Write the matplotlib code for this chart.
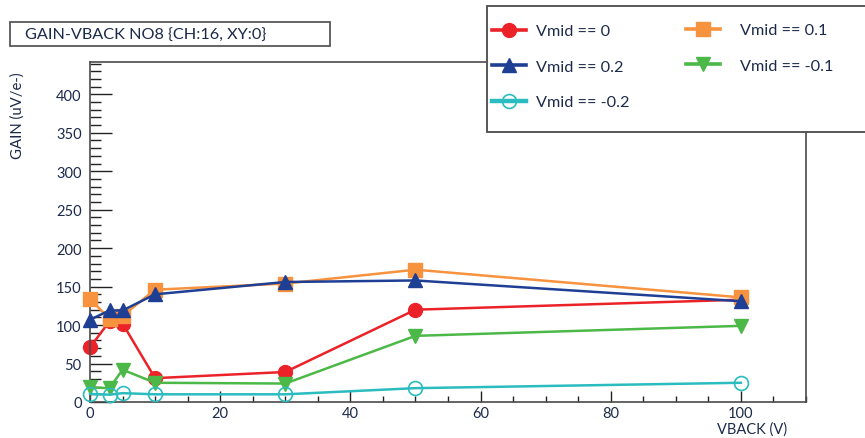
import matplotlib
matplotlib.use("Agg")
import matplotlib.pyplot as plt
from matplotlib.ticker import MultipleLocator
from matplotlib.lines import Line2D
from matplotlib.patches import Rectangle

plt.rcParams['font.family'] = ['Lato', 'DejaVu Sans']

# Back-bias voltage scan (V)
vback = [0, 3, 5, 10, 30, 50, 100]

# Gain (uV/e-) for each Vmid setting
gain_vmid_0 = [71, 105, 102, 31, 39, 120, 133]
gain_vmid_p01 = [134, 108, 112, 146, 154, 172, 136]
gain_vmid_p02 = [107, 119, 119, 140, 156, 158, 131]
gain_vmid_m01 = [19, 18, 42, 25, 24, 86, 99]
gain_vmid_m02 = [10.5, 9.5, 11.5, 10, 10, 18, 25]

labels = ["Vmid == 0", "Vmid == 0.1", "Vmid == 0.2", "Vmid == -0.1", "Vmid == -0.2"]
title = "GAIN-VBACK NO8 {CH:16, XY:0}"

W, H = 865, 439
fig = plt.figure(figsize=(W / 100, H / 100), dpi=100)
ax = fig.add_axes([90 / W, 1 - 403 / H, (806 - 90) / W, (403 - 63) / H])

styles = [
    (gain_vmid_0, labels[0], "#ec2229", "o", dict(), 2),
    (gain_vmid_p01, labels[1], "#f7923f", "s", dict(), 3),
    (gain_vmid_p02, labels[2], "#1f3f95", "^", dict(), 4),
    (gain_vmid_m01, labels[3], "#4cb848", "v", dict(), 5),
    (gain_vmid_m02, labels[4], "#2bbcbf", "o", dict(mfc="none", mew=1.2), 6),
]

handles = {}
for ys, lab, col, mk, extra, z in styles:
    kw = dict(color=col, lw=1.8, marker=mk, ms=10, mec=col, zorder=z, clip_on=False)
    kw.update(extra)
    ax.plot(vback, ys, **kw)
    hk = dict(kw)
    hk.pop("zorder"); hk.pop("clip_on")
    hk["lw"] = 2.6 if mk != "o" or "mfc" not in extra else 3.2
    handles[lab] = Line2D([], [], **hk)

ax.set_xlim(0, 110)
ax.set_ylim(0, 442)

ax.xaxis.set_major_locator(MultipleLocator(20))
ax.xaxis.set_minor_locator(MultipleLocator(5))
ax.yaxis.set_major_locator(MultipleLocator(50))
ax.yaxis.set_minor_locator(MultipleLocator(10))

frame_col = "#4a4a4a"
for s in ax.spines.values():
    s.set_color(frame_col)
    s.set_linewidth(1.2)

ax.tick_params(axis="x", which="major", direction="in", length=8, width=1, color="#222222",
               labelsize=10.5, pad=3, labelcolor="#1c2a4a")
ax.tick_params(axis="x", which="minor", direction="in", length=4, width=1, color="#222222")
ax.tick_params(axis="y", which="major", direction="in", length=16, width=1, color="#222222",
               labelsize=10.5, pad=6, labelcolor="#1c2a4a")
ax.tick_params(axis="y", which="minor", direction="in", length=8, width=1, color="#222222")

# axis titles in ROOT style: flush with the far end of each axis
fig.text(787 / W, 1 - 430 / H, "VBACK (V)", ha="right", va="center", fontsize=10.5, color="#1c2a4a")
fig.text(18 / W, 1 - 72 / H, "GAIN (uV/e-)", ha="center", va="top", rotation=90, fontsize=10.7,
         color="#1c2a4a")

# title box
fig.patches.append(Rectangle((10 / W, 1 - 47 / H), 320 / W, 24 / H, transform=fig.transFigure,
                             fill=True, facecolor="white", edgecolor=frame_col, lw=1.2, zorder=5))
fig.text(25 / W, 1 - 35.5 / H, title, ha="left", va="center", fontsize=11.7, color="#1c2a4a", zorder=6)

# legend box
fig.patches.append(Rectangle((487 / W, 1 - 133 / H), (W + 5 - 487) / W, 126 / H, transform=fig.transFigure,
                             fill=True, facecolor="white", edgecolor=frame_col, lw=1.3, zorder=5))

leg_kw = dict(frameon=False, fontsize=11.7, handlelength=2.1, handletextpad=0.6, borderpad=0,
              borderaxespad=0, labelspacing=1.3, numpoints=1, labelcolor="#1c2a4a")
col1 = [labels[0], labels[2], labels[4]]
col2 = [labels[1], labels[3]]
leg1 = fig.legend([handles[l] for l in col1], col1, loc="center left",
                  bbox_to_anchor=(492 / W, 1 - 67.5 / H), **leg_kw)
leg2 = fig.legend([handles[l] for l in col2], col2, loc="center left",
                  bbox_to_anchor=(686 / W, 1 - 49 / H), **dict(leg_kw, handletextpad=1.2))
leg1.set_zorder(7)
leg2.set_zorder(7)

fig.savefig("out.png", dpi=100)
